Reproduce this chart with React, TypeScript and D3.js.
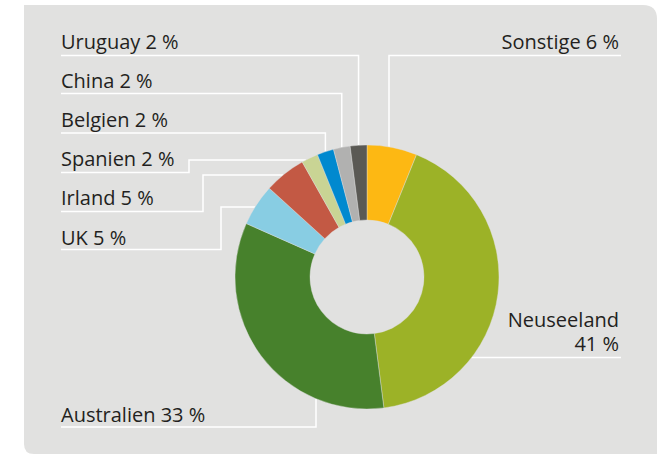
import React from "react";
import * as d3 from "d3";

const categories = ["Sonstige", "Neuseeland", "Australien", "UK", "Irland", "Spanien", "Belgien", "China", "Uruguay"];
const values = [6, 41, 33, 5, 5, 2, 2, 2, 2];
const labelTexts = ["Sonstige 6 %", "Neuseeland|41 %", "Australien 33 %", "UK 5 %", "Irland 5 %", "Spanien 2 %", "Belgien 2 %", "China 2 %", "Uruguay 2 %"];
const colors = ["#FDB813", "#9CB227", "#47812C", "#88CDE3", "#C35944", "#C9D494", "#0089CF", "#B1B1B0", "#5A5954"];

const W = 658;
const H = 454;
const cx = 367;
const cy = 277;
const R = 132;
const r0 = 57;

type Lay = { side: "L" | "R"; base: number; lineY: number; kind: "vert" | "step" | "horiz"; ex?: number; ey?: number };
const layout: Lay[] = [
  { side: "R", base: 48.5, lineY: 55.5, kind: "vert", ex: 389 },
  { side: "R", base: 350.5, lineY: 357.5, kind: "horiz" },
  { side: "L", base: 422, lineY: 427, kind: "vert", ex: 316 },
  { side: "L", base: 244.5, lineY: 249.5, kind: "step", ex: 221, ey: 207 },
  { side: "L", base: 205, lineY: 211.5, kind: "step", ex: 203, ey: 175 },
  { side: "L", base: 166, lineY: 172.5, kind: "step", ex: 189, ey: 160 },
  { side: "L", base: 127, lineY: 133, kind: "vert" },
  { side: "L", base: 88, lineY: 93.5, kind: "vert" },
  { side: "L", base: 48.5, lineY: 55.5, kind: "vert" },
];

export default function App() {
  const pie = d3.pie<number>().sort(null).value((d) => d)(values);
  const arc = d3.arc<d3.PieArcDatum<number>>().innerRadius(r0).outerRadius(R);

  const bgPath = `M24,5 H${W - 1 - 14} Q${W - 1},5 ${W - 1},19 V${H} H34 Q24,${H} 24,${H - 10} Z`;
  const leftX = 61;
  const rightX = 621;

  const leaders = pie.map((p, i) => {
    const L = layout[i];
    const mid = (p.startAngle + p.endAngle) / 2;
    let pts: [number, number][] = [];
    if (L.kind === "vert") {
      const mx = L.ex !== undefined ? L.ex : cx + Math.sin(mid) * R;
      const dx = mx - cx;
      const dy = Math.sqrt(R * R - dx * dx);
      const onTop = Math.cos(mid) > 0;
      const ey = onTop ? cy - dy : cy + dy;
      if (L.side === "L") pts = [[leftX, L.lineY], [mx, L.lineY], [mx, ey]];
      else pts = [[rightX, L.lineY], [mx, L.lineY], [mx, ey]];
    } else if (L.kind === "horiz") {
      const dy = L.lineY - cy;
      const dx = Math.sqrt(R * R - dy * dy);
      pts = [[cx + dx, L.lineY], [rightX, L.lineY]];
    } else {
      const dy = (L.ey as number) - cy;
      const dx = Math.sqrt(R * R - dy * dy);
      pts = [[leftX, L.lineY], [L.ex as number, L.lineY], [L.ex as number, L.ey as number], [cx - dx, L.ey as number]];
    }
    return d3.line()(pts) as string;
  });

  return (
    <svg width={W} height={H} style={{ position: "absolute", left: 0, top: 0, background: "#fff" }}>
      <path d={bgPath} fill="#E1E1E0" />
      {leaders.map((d, i) => (
        <path key={"l" + i} d={d} fill="none" stroke="#ffffff" strokeWidth={1.5} />
      ))}
      <g transform={`translate(${cx},${cy})`}>
        {pie.map((p, i) => (
          <path key={categories[i]} d={arc(p) as string} fill={colors[i]} stroke="#E1E1E0" strokeWidth={0.4} />
        ))}
      </g>
      <g fontFamily="'Open Sans', sans-serif" fontSize={20} fill="#231F20">
        {labelTexts.map((t, i) => {
          const L = layout[i];
          const parts = t.split("|");
          const x = L.side === "L" ? leftX : 619;
          const anchor = L.side === "L" ? "start" : "end";
          return (
            <text key={"t" + i} x={x} y={L.base - (parts.length - 1) * 24} textAnchor={anchor}>
              {parts.map((s, j) => (
                <tspan key={j} x={x} dy={j === 0 ? 0 : 24}>
                  {s}
                </tspan>
              ))}
            </text>
          );
        })}
      </g>
    </svg>
  );
}
